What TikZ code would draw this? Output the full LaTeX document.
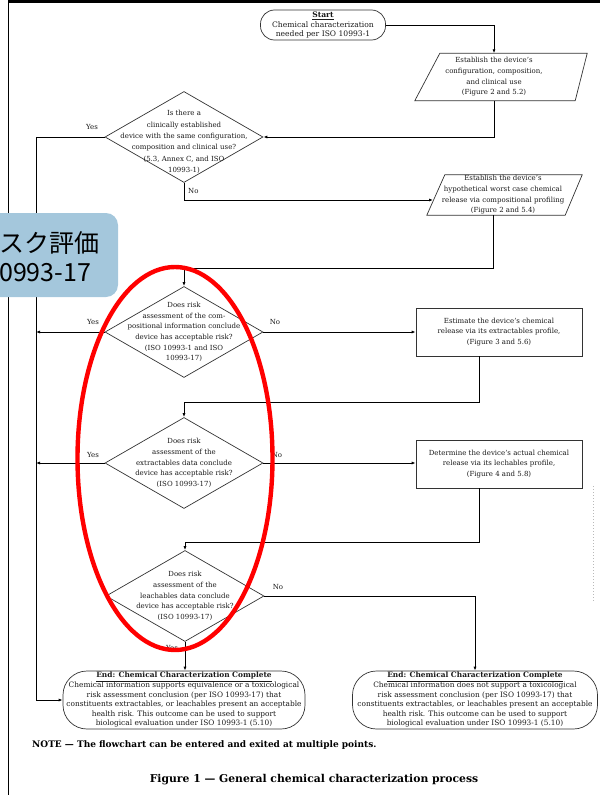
\documentclass[tikz,border=0pt]{standalone}
\usepackage{fontspec}
\setmainfont{DejaVu Serif}
\newfontfamily\cjkfont{Noto Sans CJK JP}
\usetikzlibrary{shapes.geometric,arrows.meta,calc}
\definecolor{callfill}{RGB}{164,199,220}
\begin{document}
\begin{tikzpicture}[x=1pt,y=-1pt,
  txt/.style={font=\fontsize{7}{10.6}\selectfont, align=center, inner sep=0pt, text=black!90},
  shp/.style={draw=black!80, line width=0.7pt},
  dia/.style={shp, shape=diamond, minimum width=158pt, minimum height=91pt, inner sep=0pt},
  boxnode/.style={shp, rectangle, minimum width=166pt, minimum height=48pt, txt},
  para/.style={rectangle, txt},
  term/.style={shp, rounded corners=14pt, txt, font=\fontsize{7.6}{9.6}\selectfont},
  endterm/.style={shp, rounded corners=24pt, txt, font=\fontsize{7.4}{9.6}\selectfont},
  conn/.style={line width=0.8pt, black},
  arr/.style={conn, -{Latex[length=4pt,width=3pt]}},
  lbl/.style={font=\fontsize{7}{8}\selectfont, inner sep=0pt, text=black!90}
]
\useasboundingbox (0,0) rectangle (600,795);

% page frame
\draw[line width=2.2pt] (8,1.5) -- (600,1.5);
\draw[line width=0.9pt] (8,1.5) -- (8,795);
\draw[gray!55, dotted, line width=1pt] (593,486) -- (593,602);

% start
\node[term, minimum width=125pt, minimum height=30pt] (st) at (323,25)
  {\underline{\textbf{Start}}\\Chemical characterization\\needed per ISO 10993-1};

% parallelogram 1
\node[para, minimum width=150pt, minimum height=47pt] (p1) at (494,77)
  {Establish the device’s\\configuration, composition,\\and clinical use\\(Figure 2 and 5.2)};
\draw[shp] ([xshift=-4pt]p1.south west) -- ([xshift=21pt]p1.north west) -- ([xshift=18pt]p1.north east) -- ([xshift=6pt]p1.south east) -- cycle;

% diamond 1
\node[dia] (d1) at (184,137) {};
\node[txt, font=\fontsize{7}{11.4}\selectfont] (d1t) at (184,142) {Is there a\\clinically established\\device with the same configuration,\\composition and clinical use?\\(5.3, Annex C, and ISO\\10993-1)};

% parallelogram 2
\node[para, minimum width=130pt, minimum height=40pt] (p2) at (503,195)
  {Establish the device’s\\hypothetical worst case chemical\\release via compositional profiling\\(Figure 2 and 5.4)};
\draw[shp] ([xshift=-11pt]p2.south west) -- ([xshift=7pt]p2.north west) -- ([xshift=14pt]p2.north east) -- ([xshift=-3pt]p2.south east) -- cycle;
\coordinate (p2in) at (433,200);

% diamond 2
\node[dia] (d2) at (184,332) {};
\node[txt] at (184,332) {Does risk\\assessment of the com-\\positional information conclude\\device has acceptable risk?\\(ISO 10993-1 and ISO\\10993-17)};

% box 3
\node[boxnode] (b3) at (499,332) {Estimate the device’s chemical\\release via its extractables profile,\\(Figure 3 and 5.6)};

% diamond 3
\node[dia] (d3) at (184,463) {};
\node[txt] at (184,463) {Does risk\\assessment of the\\extractables data conclude\\device has acceptable risk?\\(ISO 10993-17)};

% box 4
\node[boxnode] (b4) at (499,464) {Determine the device’s actual chemical\\release via its lechables profile,\\(Figure 4 and 5.8)};

% diamond 4
\node[dia] (d4) at (185,596) {};
\node[txt] at (185,596) {Does risk\\assessment of the\\leachables data conclude\\device has acceptable risk?\\(ISO 10993-17)};

% end terminals
\node[endterm, minimum width=242pt, minimum height=58pt] (e1) at (184,700)
  {\underline{\textbf{End: Chemical Characterization Complete}}\\Chemical information supports equivalence or a toxicological\\risk assessment conclusion (per ISO 10993-17) that\\constituents extractables, or leachables present an acceptable\\health risk. This outcome can be used to support\\biological evaluation under ISO 10993-1 (5.10)};
\node[endterm, minimum width=245pt, minimum height=58pt] (e2) at (475,700)
  {\underline{\textbf{End: Chemical Characterization Complete}}\\Chemical information does not support a toxicological\\risk assessment conclusion (per ISO 10993-17) that\\constituents extractables, or leachables present an acceptable\\health risk. This outcome can be used to support\\biological evaluation under ISO 10993-1 (5.10)};

% connectors
\coordinate (lt) at (36,137);
\coordinate (lb) at (36,700);
\draw[arr] (st.east) -| (p1.north);
\draw[arr] (p1.south) |- (d1.east);
\draw[conn] (d1.west) -- (lt) -- (lb);
\draw[arr] (lb) -- (e1.west);
\draw[arr] (d1.south) |- (p2in);
\draw[arr] ([xshift=-10pt]p2.south) -- ++(0,53) -| (d2.north);
\draw[arr] (d2.east) -- (b3.west);
\draw[arr] (d2.west) -- (d2.west -| lt);
\draw[arr] ([xshift=-20pt]b3.south) -- ++(0,46) -| (d3.north);
\draw[arr] (d3.east) -- (d3.east -| b4.west);
\draw[arr] (d3.west) -- (d3.west -| lt);
\draw[arr] ([xshift=-20pt]b4.south) -- ++(0,54) -| (d4.north);
\draw[arr] (d4.east) -| (e2.north);
\draw[arr] (d4.south) -- (d4.south |- e1.north);

% labels
\node[lbl] at (92,127) {Yes};
\node[lbl, anchor=west] at (188,191) {No};
\node[lbl] at (93,322) {Yes};
\node[lbl] at (275,322) {No};
\node[lbl] at (93,455) {Yes};
\node[lbl] at (277,455) {No};
\node[lbl] at (278,587) {No};
\node[lbl] at (172,648) {Yes};

% note and caption
\node[anchor=west, inner sep=0pt, font=\fontsize{9}{11}\selectfont\bfseries] (note) at (32,745)
  {NOTE — The flowchart can be entered and exited at multiple points.};
\node[inner sep=0pt, font=\fontsize{10.8}{13}\selectfont\bfseries] (cap) at (314,780)
  {Figure 1 — General chemical characterization process};

% callout
\fill[callfill, rounded corners=12pt] (-20,213) rectangle (118,297);
\node[anchor=west, inner sep=0pt, font=\cjkfont\fontsize{25}{28}\selectfont] (c1) at (-1,243) {スク評価};
\node[anchor=west, inner sep=0pt, font=\cjkfont\fontsize{25}{28}\selectfont] (c2) at (-1,273) {0993-17};

% red ellipse
\draw[red, line width=4.4pt] (175,458.5) ellipse [x radius=97.5, y radius=191.5];
\end{tikzpicture}
\end{document}
